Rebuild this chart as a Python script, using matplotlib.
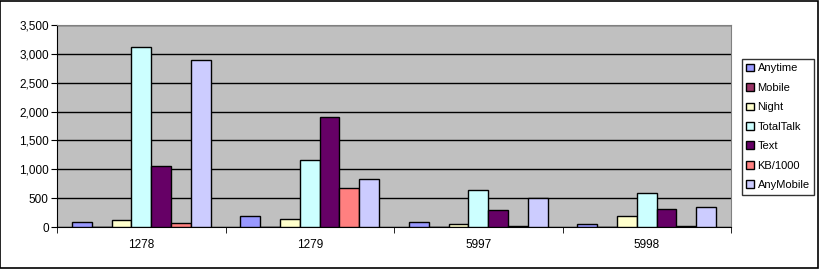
import matplotlib
matplotlib.use("Agg")
import matplotlib.pyplot as plt
import numpy as np
from matplotlib.patches import Rectangle

categories = ["1278", "1279", "5997", "5998"]
series_names = ["Anytime", "Mobile", "Night", "TotalTalk", "Text", "KB/1000", "AnyMobile"]
anytime = [86, 190, 92, 58]
mobile = [0, 0, 0, 0]
night = [127, 144, 58, 196]
totaltalk = [3114, 1159, 646, 594]
text = [1055, 1909, 300, 317]
kb1000 = [75, 675, 23, 23]
anymobile = [2889, 830, 502, 352]
series_values = [anytime, mobile, night, totaltalk, text, kb1000, anymobile]
colors = ["#9999FF", "#993366", "#FFFFCC", "#CCFFFF", "#660066", "#FF8080", "#CCCCFF"]
yticks = [0, 500, 1000, 1500, 2000, 2500, 3000, 3500]

plt.rcParams['font.family'] = ['Liberation Sans', 'DejaVu Sans']
fig = plt.figure(figsize=(8.19, 2.69), dpi=100)
fig.patch.set_facecolor("white")
fig.patches.append(Rectangle((0.0006, 0.002), 0.9985, 0.995, transform=fig.transFigure,
                             fill=False, edgecolor="black", linewidth=1.2))

ax = fig.add_axes([57/819, 42/269, 674/819, 202/269])
ax.set_facecolor("#C0C0C0")

n = len(series_names)
w = 1.0 / (n + 1.5)
x = np.arange(len(categories))
for i, (name, vals, c) in enumerate(zip(series_names, series_values, colors)):
    pos = x - 0.5 + 0.75 * w + (i + 0.5) * w
    ax.bar(pos, vals, width=w, color=c, edgecolor="black", linewidth=1.0, label=name, zorder=3)

ax.set_xlim(-0.5, len(categories) - 0.5)
ax.set_ylim(0, 3500)
ax.set_yticks(yticks)
ax.set_yticklabels([f"{v:,}" for v in yticks], fontsize=8.5)
ax.yaxis.grid(True, color="black", linewidth=1.0, zorder=1)
ax.set_axisbelow(True)

ax.set_xticks(x)
ax.set_xticklabels(categories, fontsize=8.5)
ax.tick_params(axis="x", length=0, pad=9)
ax.set_xticks(np.arange(len(categories) + 1) - 0.5, minor=True)
ax.tick_params(axis="x", which="minor", length=4, direction="out", color="black")
ax.tick_params(axis="y", length=4, direction="out", pad=2)

for s in ["top", "right"]:
    ax.spines[s].set_color("#808080")
ax.spines["left"].set_color("black")
ax.spines["bottom"].set_color("black")

leg = fig.legend(loc="upper left", bbox_to_anchor=(742/819, 1 - 59/269), fontsize=8,
                 frameon=True, fancybox=False, edgecolor="black", handlelength=0.7,
                 handleheight=0.7, handletextpad=0.3, labelspacing=0.85, borderpad=0.4,
                 borderaxespad=0)
leg.get_frame().set_linewidth(1.0)

fig.savefig("out.png", dpi=100)
